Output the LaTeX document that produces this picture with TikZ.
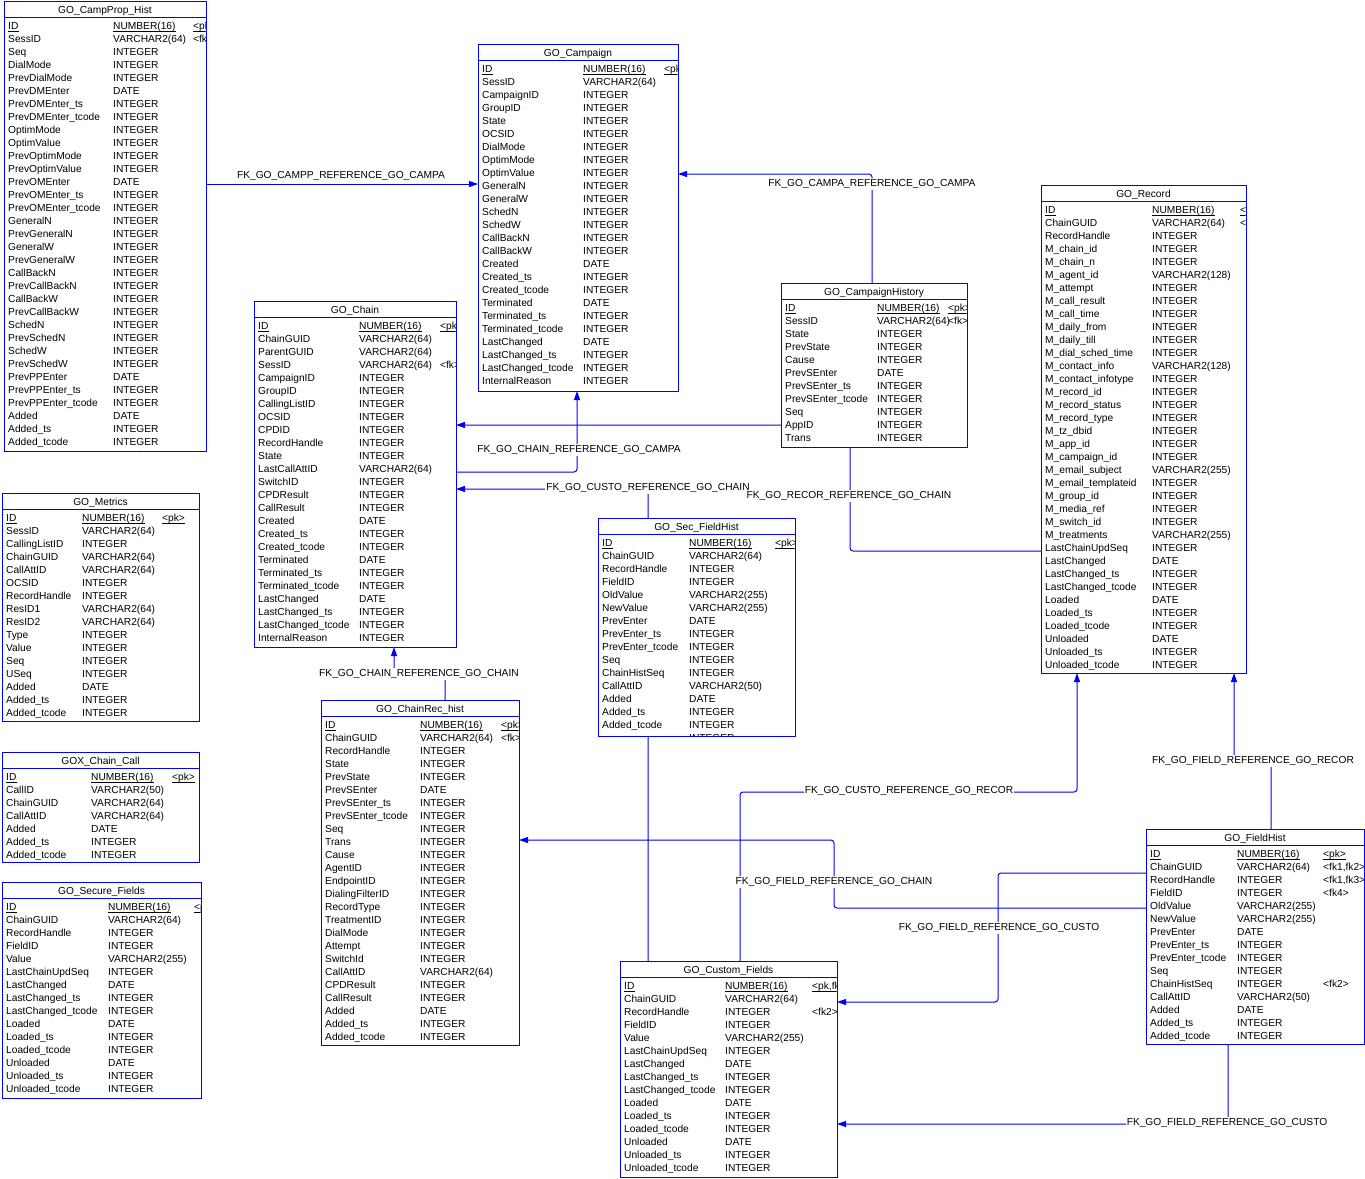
\documentclass[tikz,border=0pt]{standalone}
\usepackage{fontspec}
\setmainfont{Liberation Sans}
\usetikzlibrary{arrows.meta,fit,backgrounds}
\definecolor{erblue}{RGB}{0,0,255}
\tikzset{
  tblline/.style={draw=erblue, line width=1pt},
  cell/.style={anchor=base west, inner sep=0pt, font=\fontsize{10.2}{12}\selectfont, text=black},
  ttl/.style={anchor=base, inner sep=0pt, font=\fontsize{10.2}{12}\selectfont, text=black},
  uline/.style={draw=black, line width=0.8pt},
  fk/.style={draw=erblue, line width=1pt, rounded corners=3pt, -{Triangle[length=9pt,width=6pt]}},
  fklbl/.style={fill=white, inner sep=1pt, font=\fontsize{10.2}{12}\selectfont, text=black},
  tblarea/.style={inner sep=0pt, outer sep=0pt},
}
% #1 name, #2 left, #3 top, #4 right, #5 bottom, #6 title, #7 type x, #8 key x, #9 rows
\newcommand\erTable[9]{%
  \fill[white] (#2,#3) rectangle (#4,#5);
  \begin{scope}
    \clip (#2,#3) rectangle (#4-0.5,#5);
    \node[ttl] at ({(#2+#4)/2},#3+12) {#6};
    \foreach \cn/\ct/\ck [count=\ri from 0] in {#9} {
      \pgfmathsetmacro\yy{#3+25+13*\ri+3.6}
      \node[cell] (ua) at (#2+4,\yy) {\cn};
      \node[cell] (ub) at (#7,\yy) {\ct};
      \node[cell] (uc) at (#8,\yy) {\ck};
      \ifnum\ri=0
        \draw[uline] ([yshift=-1.6pt]ua.base west) -- ([yshift=-1.6pt]ua.base east);
        \draw[uline] ([yshift=-1.6pt]ub.base west) -- ([yshift=-1.6pt]ub.base east);
        \draw[uline] ([yshift=-1.6pt]uc.base west) -- ([yshift=-1.6pt]uc.base east);
      \fi
    }
  \end{scope}
  \draw[tblline] (#2,#3) rectangle (#4,#5);
  \draw[tblline] (#2,#3+16) -- (#4,#3+16);
  \node[tblarea, fit={(#2,#3) (#4,#5)}] (#1) {};
}
\begin{document}
\catcode`\_=12
\begin{tikzpicture}[x=1pt,y=-1pt]
\useasboundingbox (0,0) rectangle (1365,1178);

\erTable{campprop}{4}{1}{206}{451}{GO_CampProp_Hist}{113}{193}{ID/NUMBER(16)/<pk>, SessID/VARCHAR2(64)/<fk>, Seq/INTEGER/{}, DialMode/INTEGER/{}, PrevDialMode/INTEGER/{}, PrevDMEnter/DATE/{}, PrevDMEnter_ts/INTEGER/{}, PrevDMEnter_tcode/INTEGER/{}, OptimMode/INTEGER/{}, OptimValue/INTEGER/{}, PrevOptimMode/INTEGER/{}, PrevOptimValue/INTEGER/{}, PrevOMEnter/DATE/{}, PrevOMEnter_ts/INTEGER/{}, PrevOMEnter_tcode/INTEGER/{}, GeneralN/INTEGER/{}, PrevGeneralN/INTEGER/{}, GeneralW/INTEGER/{}, PrevGeneralW/INTEGER/{}, CallBackN/INTEGER/{}, PrevCallBackN/INTEGER/{}, CallBackW/INTEGER/{}, PrevCallBackW/INTEGER/{}, SchedN/INTEGER/{}, PrevSchedN/INTEGER/{}, SchedW/INTEGER/{}, PrevSchedW/INTEGER/{}, PrevPPEnter/DATE/{}, PrevPPEnter_ts/INTEGER/{}, PrevPPEnter_tcode/INTEGER/{}, Added/DATE/{}, Added_ts/INTEGER/{}, Added_tcode/INTEGER/{}, {}/INTEGER/{}}

\erTable{campaign}{478}{44}{678}{391}{GO_Campaign}{583}{664}{ID/NUMBER(16)/<pk>, SessID/VARCHAR2(64)/{}, CampaignID/INTEGER/{}, GroupID/INTEGER/{}, State/INTEGER/{}, OCSID/INTEGER/{}, DialMode/INTEGER/{}, OptimMode/INTEGER/{}, OptimValue/INTEGER/{}, GeneralN/INTEGER/{}, GeneralW/INTEGER/{}, SchedN/INTEGER/{}, SchedW/INTEGER/{}, CallBackN/INTEGER/{}, CallBackW/INTEGER/{}, Created/DATE/{}, Created_ts/INTEGER/{}, Created_tcode/INTEGER/{}, Terminated/DATE/{}, Terminated_ts/INTEGER/{}, Terminated_tcode/INTEGER/{}, LastChanged/DATE/{}, LastChanged_ts/INTEGER/{}, LastChanged_tcode/INTEGER/{}, InternalReason/INTEGER/{}}

\erTable{record}{1041}{185}{1246}{673}{GO_Record}{1152}{1240}{ID/NUMBER(16)/<pk>, ChainGUID/VARCHAR2(64)/<fk>, RecordHandle/INTEGER/{}, M_chain_id/INTEGER/{}, M_chain_n/INTEGER/{}, M_agent_id/VARCHAR2(128)/{}, M_attempt/INTEGER/{}, M_call_result/INTEGER/{}, M_call_time/INTEGER/{}, M_daily_from/INTEGER/{}, M_daily_till/INTEGER/{}, M_dial_sched_time/INTEGER/{}, M_contact_info/VARCHAR2(128)/{}, M_contact_infotype/INTEGER/{}, M_record_id/INTEGER/{}, M_record_status/INTEGER/{}, M_record_type/INTEGER/{}, M_tz_dbid/INTEGER/{}, M_app_id/INTEGER/{}, M_campaign_id/INTEGER/{}, M_email_subject/VARCHAR2(255)/{}, M_email_templateid/INTEGER/{}, M_group_id/INTEGER/{}, M_media_ref/INTEGER/{}, M_switch_id/INTEGER/{}, M_treatments/VARCHAR2(255)/{}, LastChainUpdSeq/INTEGER/{}, LastChanged/DATE/{}, LastChanged_ts/INTEGER/{}, LastChanged_tcode/INTEGER/{}, Loaded/DATE/{}, Loaded_ts/INTEGER/{}, Loaded_tcode/INTEGER/{}, Unloaded/DATE/{}, Unloaded_ts/INTEGER/{}, Unloaded_tcode/INTEGER/{}}

\erTable{chain}{254}{301}{456}{647}{GO_Chain}{359}{440}{ID/NUMBER(16)/<pk>, ChainGUID/VARCHAR2(64)/{}, ParentGUID/VARCHAR2(64)/{}, SessID/VARCHAR2(64)/<fk>, CampaignID/INTEGER/{}, GroupID/INTEGER/{}, CallingListID/INTEGER/{}, OCSID/INTEGER/{}, CPDID/INTEGER/{}, RecordHandle/INTEGER/{}, State/INTEGER/{}, LastCallAttID/VARCHAR2(64)/{}, SwitchID/INTEGER/{}, CPDResult/INTEGER/{}, CallResult/INTEGER/{}, Created/DATE/{}, Created_ts/INTEGER/{}, Created_tcode/INTEGER/{}, Terminated/DATE/{}, Terminated_ts/INTEGER/{}, Terminated_tcode/INTEGER/{}, LastChanged/DATE/{}, LastChanged_ts/INTEGER/{}, LastChanged_tcode/INTEGER/{}, InternalReason/INTEGER/{}, {}/INTEGER/{}}

\erTable{camphist}{781}{283}{967}{447}{GO_CampaignHistory}{877}{948}{ID/NUMBER(16)/<pk>, SessID/VARCHAR2(64)/<fk>, State/INTEGER/{}, PrevState/INTEGER/{}, Cause/INTEGER/{}, PrevSEnter/DATE/{}, PrevSEnter_ts/INTEGER/{}, PrevSEnter_tcode/INTEGER/{}, Seq/INTEGER/{}, AppID/INTEGER/{}, Trans/INTEGER/{}}

\erTable{metrics}{2}{493}{199}{721}{GO_Metrics}{82}{162}{ID/NUMBER(16)/<pk>, SessID/VARCHAR2(64)/{}, CallingListID/INTEGER/{}, ChainGUID/VARCHAR2(64)/{}, CallAttID/VARCHAR2(64)/{}, OCSID/INTEGER/{}, RecordHandle/INTEGER/{}, ResID1/VARCHAR2(64)/{}, ResID2/VARCHAR2(64)/{}, Type/INTEGER/{}, Value/INTEGER/{}, Seq/INTEGER/{}, USeq/INTEGER/{}, Added/DATE/{}, Added_ts/INTEGER/{}, Added_tcode/INTEGER/{}}

\erTable{goxcall}{2}{752}{199}{862}{GOX_Chain_Call}{91}{172}{ID/NUMBER(16)/<pk>, CallID/VARCHAR2(50)/{}, ChainGUID/VARCHAR2(64)/{}, CallAttID/VARCHAR2(64)/{}, Added/DATE/{}, Added_ts/INTEGER/{}, Added_tcode/INTEGER/{}, {}/INTEGER/{}}

\erTable{securef}{2}{882}{201}{1098}{GO_Secure_Fields}{108}{194}{ID/NUMBER(16)/<pk>, ChainGUID/VARCHAR2(64)/{}, RecordHandle/INTEGER/{}, FieldID/INTEGER/{}, Value/VARCHAR2(255)/{}, LastChainUpdSeq/INTEGER/{}, LastChanged/DATE/{}, LastChanged_ts/INTEGER/{}, LastChanged_tcode/INTEGER/{}, Loaded/DATE/{}, Loaded_ts/INTEGER/{}, Loaded_tcode/INTEGER/{}, Unloaded/DATE/{}, Unloaded_ts/INTEGER/{}, Unloaded_tcode/INTEGER/{}, {}/INTEGER/{}}

\erTable{chainrec}{321}{700}{519}{1045}{GO_ChainRec_hist}{420}{501}{ID/NUMBER(16)/<pk>, ChainGUID/VARCHAR2(64)/<fk>, RecordHandle/INTEGER/{}, State/INTEGER/{}, PrevState/INTEGER/{}, PrevSEnter/DATE/{}, PrevSEnter_ts/INTEGER/{}, PrevSEnter_tcode/INTEGER/{}, Seq/INTEGER/{}, Trans/INTEGER/{}, Cause/INTEGER/{}, AgentID/INTEGER/{}, EndpointID/INTEGER/{}, DialingFilterID/INTEGER/{}, RecordType/INTEGER/{}, TreatmentID/INTEGER/{}, DialMode/INTEGER/{}, Attempt/INTEGER/{}, SwitchId/INTEGER/{}, CallAttID/VARCHAR2(64)/{}, CPDResult/INTEGER/{}, CallResult/INTEGER/{}, Added/DATE/{}, Added_ts/INTEGER/{}, Added_tcode/INTEGER/{}}

\erTable{secfh}{598}{518}{795}{736}{GO_Sec_FieldHist}{689}{775}{ID/NUMBER(16)/<pk>, ChainGUID/VARCHAR2(64)/{}, RecordHandle/INTEGER/{}, FieldID/INTEGER/{}, OldValue/VARCHAR2(255)/{}, NewValue/VARCHAR2(255)/{}, PrevEnter/DATE/{}, PrevEnter_ts/INTEGER/{}, PrevEnter_tcode/INTEGER/{}, Seq/INTEGER/{}, ChainHistSeq/INTEGER/{}, CallAttID/VARCHAR2(50)/{}, Added/DATE/{}, Added_ts/INTEGER/{}, Added_tcode/INTEGER/{}, {}/INTEGER/{}}

\erTable{customf}{620}{961}{837}{1177}{GO_Custom_Fields}{725}{812}{ID/NUMBER(16)/{<pk,fk1>}, ChainGUID/VARCHAR2(64)/{}, RecordHandle/INTEGER/<fk2>, FieldID/INTEGER/{}, Value/VARCHAR2(255)/{}, LastChainUpdSeq/INTEGER/{}, LastChanged/DATE/{}, LastChanged_ts/INTEGER/{}, LastChanged_tcode/INTEGER/{}, Loaded/DATE/{}, Loaded_ts/INTEGER/{}, Loaded_tcode/INTEGER/{}, Unloaded/DATE/{}, Unloaded_ts/INTEGER/{}, Unloaded_tcode/INTEGER/{}}

\erTable{fieldhist}{1146}{829}{1364}{1044}{GO_FieldHist}{1237}{1323}{ID/NUMBER(16)/<pk>, ChainGUID/VARCHAR2(64)/{<fk1,fk2>}, RecordHandle/INTEGER/{<fk1,fk3>}, FieldID/INTEGER/<fk4>, OldValue/VARCHAR2(255)/{}, NewValue/VARCHAR2(255)/{}, PrevEnter/DATE/{}, PrevEnter_ts/INTEGER/{}, PrevEnter_tcode/INTEGER/{}, Seq/INTEGER/{}, ChainHistSeq/INTEGER/<fk2>, CallAttID/VARCHAR2(50)/{}, Added/DATE/{}, Added_ts/INTEGER/{}, Added_tcode/INTEGER/{}}

\begin{pgfonlayer}{background}
  \draw[fk] (campprop.east |- 0,184) -- (campaign.west |- 0,184);
  \draw[fk] (camphist.north -| 872,0) |- (campaign.east |- 0,174);
  \draw[fk] (chain.east |- 0,472) -| (campaign.south -| 577,0);
  \draw[fk] (customf.north -| 648,0) |- (chain.east |- 0,489);
  \draw[fk] (record.west |- 0,551) -| (850,425) -- (chain.east |- 0,425);
  \draw[fk] (chainrec.north -| 445,0) |- (394,675) -- (chain.south -| 394,0);
  \draw[fk] (customf.north -| 740,0) |- (1077,792) -- (record.south -| 1077,0);
  \draw[fk] (fieldhist.north -| 1271,0) |- (1234,761) -- (record.south -| 1234,0);
  \draw[fk] (fieldhist.west |- 0,908) -| (834,840) -- (chainrec.east |- 0,840);
  \draw[fk] (fieldhist.west |- 0,873) -| (998,1002) -- (customf.east |- 0,1002);
  \draw[fk] (fieldhist.south -| 1228,0) |- (customf.east |- 0,1124);

  \node[fklbl] (l1) at (341,176) {FK_GO_CAMPP_REFERENCE_GO_CAMPA};
  \node[fklbl] (l2) at (872,184) {FK_GO_CAMPA_REFERENCE_GO_CAMPA};
  \node[fklbl] (l3) at (579,450) {FK_GO_CHAIN_REFERENCE_GO_CAMPA};
  \node[fklbl] (l4) at (648,488) {FK_GO_CUSTO_REFERENCE_GO_CHAIN};
  \node[fklbl] (l5) at (849,496) {FK_GO_RECOR_REFERENCE_GO_CHAIN};
  \node[fklbl] (l6) at (419,674) {FK_GO_CHAIN_REFERENCE_GO_CHAIN};
  \node[fklbl] (l7) at (909,791) {FK_GO_CUSTO_REFERENCE_GO_RECOR};
  \node[fklbl] (l8) at (1253,761) {FK_GO_FIELD_REFERENCE_GO_RECOR};
  \node[fklbl] (l9) at (834,882) {FK_GO_FIELD_REFERENCE_GO_CHAIN};
  \node[fklbl] (l10) at (999,928) {FK_GO_FIELD_REFERENCE_GO_CUSTO};
  \node[fklbl] (l11) at (1227,1123) {FK_GO_FIELD_REFERENCE_GO_CUSTO};
\end{pgfonlayer}
\end{tikzpicture}
\end{document}
